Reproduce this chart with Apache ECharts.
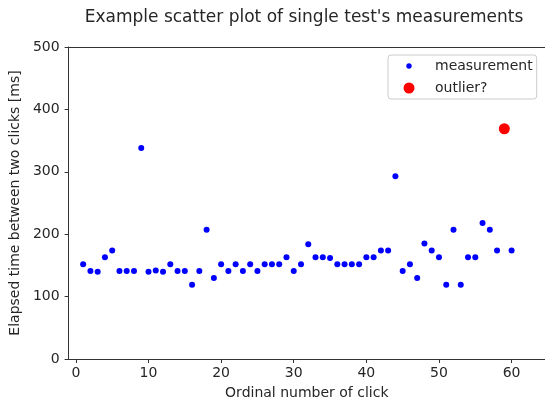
<!DOCTYPE html>
<html>
<head>
<meta charset="utf-8">
<script src="https://cdn.jsdelivr.net/npm/echarts@6/dist/echarts.min.js"></script>
<style>
html, body { margin: 0; padding: 0; background: #fff; }
#chart { width: 545px; height: 408px; }
</style>
</head>
<body>
<div id="chart"></div>
<script>
// click number -> elapsed ms (click 59 is the outlier, kept apart)
var clickNo = [1, 2, 3, 4, 5, 6, 7, 8, 9, 10, 11, 12, 13, 14, 15, 16, 17, 18, 19, 20,
	21, 22, 23, 24, 25, 26, 27, 28, 29, 30, 31, 32, 33, 34, 35, 36, 37, 38, 39, 40,
	41, 42, 43, 44, 45, 46, 47, 48, 49, 50, 51, 52, 53, 54, 55, 56, 57, 58, 60];
var elapsedMs = [152, 141, 140, 163, 174, 141, 141, 141, 338, 140, 142, 140, 152, 141, 141, 119, 141, 207, 130, 152,
	141, 152, 141, 152, 141, 152, 152, 152, 163, 141, 152, 184, 163, 163, 162, 152, 152, 152, 152, 163,
	163, 174, 174, 293, 141, 152, 130, 185, 174, 163, 119, 207, 119, 163, 163, 218, 207, 174, 174];
var outlierNo = [59];
var outlierMs = [369];
var xTicks = [0, 10, 20, 30, 40, 50, 60];
var yTicks = [0, 100, 200, 300, 400, 500];

(function(){
	"use strict";

	var font = "DejaVu Sans",
		ink = "#262626",
		dot = function(r, color){
			var svg = '<svg xmlns="http://www.w3.org/2000/svg" width="35" height="14" viewBox="0 0 35 14">' +
				'<circle cx="14" cy="7" r="' + r + '" fill="' + color + '"/></svg>';
			return 'image://data:image/svg+xml;charset=utf-8,' + encodeURIComponent(svg);
		},
		pairs = function(xs, ys){
			return xs.map(function(x, i){ return [x, ys[i]]; });
		};

	var chart = echarts.init(document.getElementById("chart"));
	chart.setOption({
		animation: false,
		backgroundColor: "#fff",
		textStyle: { fontFamily: font, color: ink },
		title: {
			text: "Example scatter plot of single test's measurements",
			left: 299,
			textAlign: "center",
			top: 4,
			textStyle: { fontFamily: font, fontSize: 17, fontWeight: "normal", color: ink }
		},
		legend: {
			orient: "vertical",
			left: 388,
			top: 55,
			padding: [4, 4, 4, 7],
			itemWidth: 35,
			itemHeight: 14,
			itemGap: 8,
			backgroundColor: "#fff",
			borderColor: "#cccccc",
			borderWidth: 1,
			borderRadius: 3,
			textStyle: { fontFamily: font, fontSize: 14, color: ink },
			data: [
				{ name: "measurement", icon: dot(2.7, "#0000ff") },
				{ name: "outlier?", icon: dot(5.5, "#ff0000") }
			]
		},
		grid: { left: 67, right: 0, top: 47, bottom: 49, containLabel: false },
		xAxis: {
			type: "value",
			min: -1,
			max: 64.6,
			name: "Ordinal number of click",
			nameLocation: "middle",
			nameGap: 27,
			nameTextStyle: { fontFamily: font, fontSize: 14, color: ink },
			axisLine: { onZero: false, lineStyle: { color: "#333", width: 1 } },
			axisTick: { show: true, length: 4, customValues: xTicks, lineStyle: { color: "#333" } },
			axisLabel: { customValues: xTicks, margin: 7, fontFamily: font, fontSize: 14, color: ink },
			splitLine: { show: false }
		},
		yAxis: {
			type: "value",
			min: 0,
			max: 500,
			interval: 100,
			name: "Elapsed time between two clicks [ms]",
			nameLocation: "middle",
			nameGap: 45,
			nameTextStyle: { fontFamily: font, fontSize: 14, color: ink },
			axisLine: { show: true, onZero: false, lineStyle: { color: "#333", width: 1 } },
			axisTick: { show: true, length: 4, lineStyle: { color: "#333" } },
			axisLabel: { customValues: yTicks, margin: 9, fontFamily: font, fontSize: 14, color: ink },
			splitLine: { show: false }
		},
		series: [
			{
				name: "measurement",
				type: "scatter",
				symbol: "circle",
				symbolSize: 6,
				itemStyle: { color: "#0000ff", opacity: 1 },
				data: pairs(clickNo, elapsedMs)
			},
			{
				name: "outlier?",
				type: "scatter",
				symbol: "circle",
				symbolSize: 11,
				itemStyle: { color: "#ff0000", opacity: 1 },
				data: pairs(outlierNo, outlierMs)
			}
		]
	});
	// top border of the axes box (right side is cut off in the reference)
	chart.setOption({
		graphic: [{
			type: "line",
			shape: { x1: 67, y1: 47.5, x2: 545, y2: 47.5 },
			style: { stroke: "#333", lineWidth: 1 },
			silent: true
		}]
	});
})();
</script>
</body>
</html>
